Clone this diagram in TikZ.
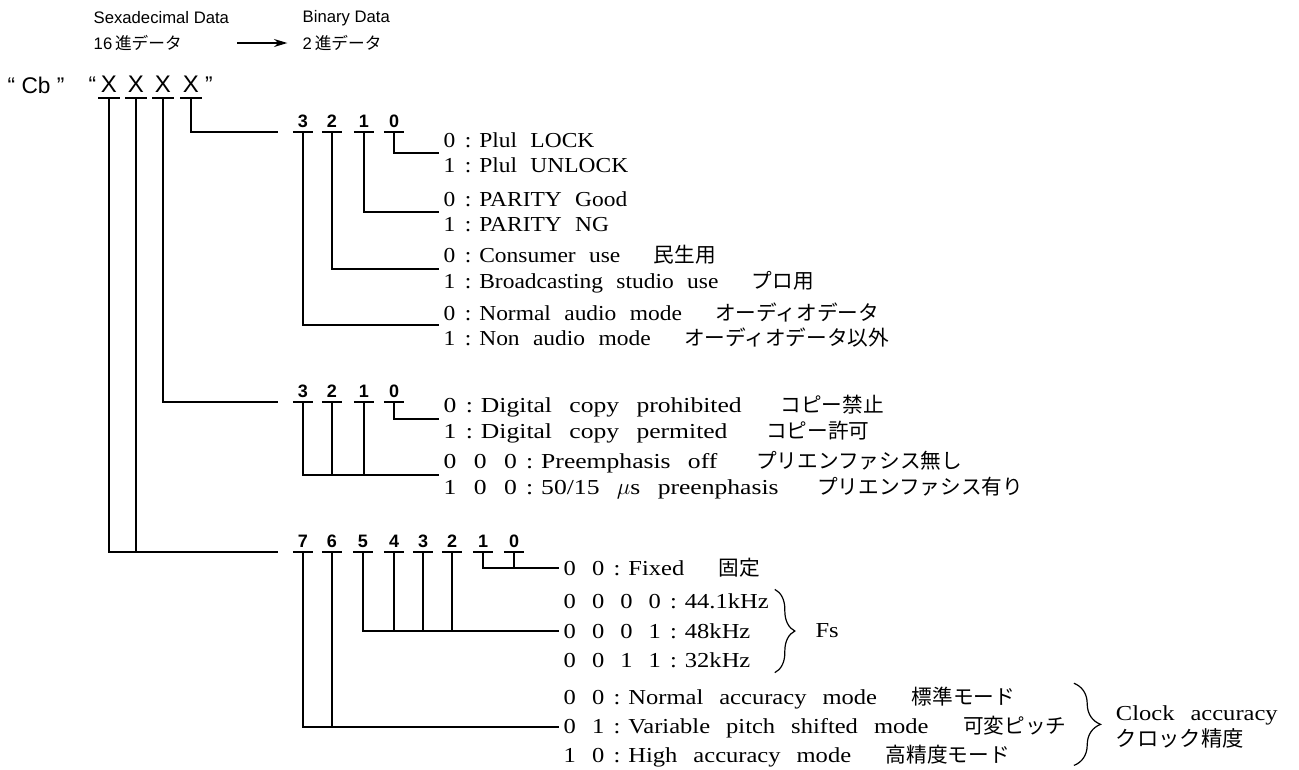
\documentclass[tikz,border=0pt]{standalone}
\usepackage{fontspec}
\setmainfont{Liberation Serif}[FakeStretch=1.1]
\setsansfont{Liberation Sans}
\newfontfamily\jp{Noto Sans CJK JP}
\usetikzlibrary{arrows.meta,positioning,decorations.pathreplacing}
\newcommand\jg{25pt}
\newcommand\lblfont{\fontsize{16}{19}\selectfont\spaceskip=10pt plus 1pt minus 1pt}
\newcommand\lblfontb{\fontsize{16}{19.5}\selectfont\addfontfeatures{FakeStretch=1.2}%
  \spaceskip=13pt plus 1pt minus 1pt\renewcommand\jg{29pt}}
\newcommand\lblfontc{\fontsize{16}{19}\selectfont\addfontfeatures{FakeStretch=1.15}%
  \spaceskip=12pt plus 1pt minus 1pt\renewcommand\jg{26pt}}
\newcommand\lblfontw{\lblfontc\fontsize{16}{22}\selectfont}
\newcommand\jtxt[1]{\hspace{\jg}{\jp\fontsize{15.5}{19}\selectfont #1}}
\newcommand\cln{\hspace{7pt}:\hspace{6pt}}

\begin{document}
\begin{tikzpicture}[
  x=0.75pt, y=-0.75pt, line width=1.1pt,
  hdr/.style={font=\sffamily\fontsize{12.5}{14}\selectfont, inner sep=0pt, anchor=west},
  ubar/.style={append after command={(\tikzlastnode.south west) edge (\tikzlastnode.south east)}},
  hexd/.style={font=\sffamily\fontsize{18}{20}\selectfont, inner sep=0pt,
    minimum width=15pt, text depth=3.75pt, anchor=south, ubar},
  hexq/.style={font=\sffamily\fontsize{17}{20}\selectfont, inner sep=0pt},
  bitd/.style={font=\sffamily\bfseries\fontsize{13.5}{15}\selectfont, inner sep=0pt,
    minimum width=14pt, text depth=3pt, anchor=south, ubar},
  lbl/.style={font=\lblfont, align=left, inner sep=3pt, anchor=west},
  lblb/.style={lbl, font=\lblfontb},
  lblc/.style={lbl, font=\lblfontc},
  lblw/.style={lbl, font=\lblfontw},
  brc/.style={decorate, line width=0.9pt},
]
  \useasboundingbox (0,0) rectangle (1299,769);

  % header
  \node[hdr] (hex) at (93,18) {Sexadecimal Data};
  \node[hdr] (hexjp) at (93,43) {16\,{\jp 進データ}};
  \node[hdr] (bin) at (302,18) {Binary Data};
  \node[hdr] (binjp) at (302,43) {2\,{\jp 進データ}};
  \draw[-{Stealth[length=10pt,width=6pt]}, shorten <=41pt, shorten >=11pt] (hexjp) -- (binjp);

  % hex word
  \node[hexq, anchor=base west] (cb) at (7,93) {“ Cb ”};
  \foreach \i/\x in {1/109,2/136,3/163,4/191}
    \node[hexd] (hx\i) at (\x,98) {X};
  \node[hexq, anchor=base east] (qo) at ([xshift=-1pt]hx1.base west) {“};
  \node[hexq, anchor=base west] (qc) at ([xshift=2pt]hx4.base east) {”};

  % bit numbers
  \foreach \b/\x in {3/303,2/332,1/364,0/394}
    \node[bitd] (g1b\b) at (\x,132) {\b};
  \foreach \b/\x in {3/303,2/332,1/364,0/394}
    \node[bitd] (g2b\b) at (\x,402) {\b};
  \foreach \b/\x in {7/303,6/332,5/363,4/394,3/423,2/452,1/483,0/514}
    \node[bitd] (g3b\b) at (\x,552) {\b};

  \coordinate (g1in) at ([xshift=-11pt]g1b3.south west);
  \coordinate (g2in) at ([xshift=-11pt]g2b3.south west);
  \coordinate (g3in) at ([xshift=-11pt]g3b7.south west);

  % meanings
  \node[lbl] (g1v0) at (439,153) {0\cln Plul LOCK\\1\cln Plul UNLOCK};
  \node[lbl] (g1v1) at (439,212) {0\cln PARITY Good\\1\cln PARITY NG};
  \node[lbl] (g1v2) at (439,269) {0\cln Consumer use\jtxt{民生用}\\1\cln Broadcasting studio use\jtxt{プロ用}};
  \node[lbl] (g1v3) at (439,325) {0\cln Normal audio mode\jtxt{オーディオデータ}\\1\cln Non audio mode\jtxt{オーディオデータ以外}};
  \node[lblb] (g2v0) at (439,419) {0\cln Digital copy prohibited\jtxt{コピー禁止}\\1\cln Digital copy permited\jtxt{コピー許可}};
  \node[lblb] (g2v1) at (439,475) {0 0 0\cln Preemphasis off\jtxt{プリエンファシス無し}\\1 0 0\cln 50/15 $\mu$s preenphasis\jtxt{プリエンファシス有り}};
  \node[lblc] (g3v0) at (559,568) {0 0\cln Fixed\jtxt{固定}};
  \node[lblw] (g3v1) at (559,631) {0 0 0 0\cln 44.1kHz\\0 0 0 1\cln 48kHz\\0 0 1 1\cln 32kHz};
  \node[lblw] (g3v2) at (559,727) {0 0\cln Normal accuracy mode\jtxt{標準モード}\\0 1\cln Variable pitch shifted mode\jtxt{可変ピッチ}\\1 0\cln High accuracy mode\jtxt{高精度モード}};

  \draw[brc, decoration={brace, amplitude=15pt}] ([xshift=1pt]g3v1.north east) -- ([xshift=1pt]g3v1.south east);
  \node[lblc, right=28pt of g3v1] (fs) {Fs};
  \draw[brc, decoration={brace, amplitude=20pt}] ([xshift=2pt,yshift=-1pt]g3v2.north east) -- ([xshift=2pt,yshift=5pt]g3v2.south east);
  \node[lblc, right=30pt of g3v2] (clk) {Clock accuracy\\{\jp クロック精度}};

  % hex digits to bit groups
  \draw (hx4.south) |- (g1in);
  \draw (hx3.south) |- (g2in);
  \draw (hx1.south) |- (g3in);
  \draw (hx2.south) -- (hx2.south |- g3in);

  % group 1
  \draw (g1b0.south) |- (g1v0.west);
  \draw (g1b1.south) |- (g1v1.west);
  \draw (g1b2.south) |- (g1v2.west);
  \draw (g1b3.south) |- (g1v3.west);

  % group 2
  \draw (g2b0.south) |- (g2v0.west);
  \draw (g2b3.south) |- (g2v1.west);
  \foreach \b in {2,1}
    \draw (g2b\b.south) -- (g2b\b.south |- g2v1.west);

  % group 3
  \draw (g3b1.south) |- (g3v0.west);
  \draw (g3b0.south) -- (g3b0.south |- g3v0.west);
  \draw (g3b5.south) |- (g3v1.west);
  \foreach \b in {4,3,2}
    \draw (g3b\b.south) -- (g3b\b.south |- g3v1.west);
  \draw (g3b7.south) |- (g3v2.west);
  \draw (g3b6.south) -- (g3b6.south |- g3v2.west);
\end{tikzpicture}
\end{document}
